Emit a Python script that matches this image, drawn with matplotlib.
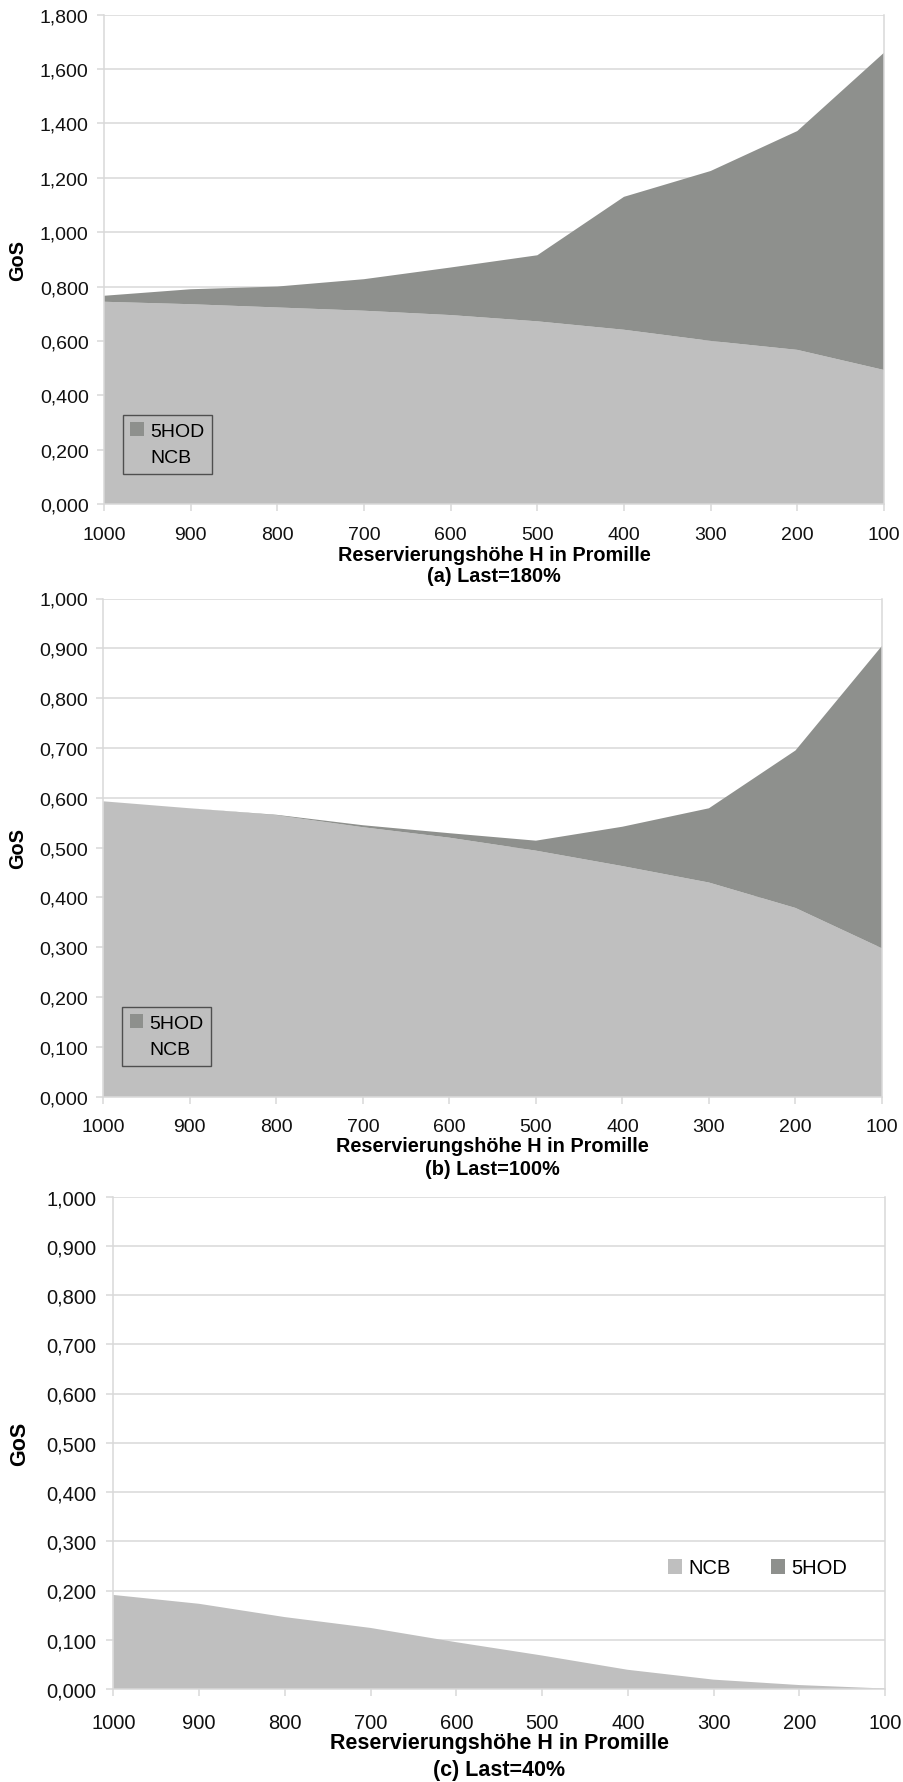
import matplotlib
matplotlib.use("Agg")
import matplotlib.pyplot as plt
from matplotlib.patches import Patch
from matplotlib.ticker import FuncFormatter, MultipleLocator

plt.rcParams['font.family'] = ['Liberation Sans', 'DejaVu Sans']

# Reservierungshöhe H (Promille), shown from 1000 down to 100
h_labels = ["1000", "900", "800", "700", "600", "500", "400", "300", "200", "100"]

# (a) Last = 180 %
ncb_180 = [0.744, 0.735, 0.723, 0.711, 0.695, 0.672, 0.641, 0.600, 0.567, 0.493]
hod_180 = [0.022, 0.055, 0.077, 0.116, 0.175, 0.243, 0.489, 0.625, 0.805, 1.167]

# (b) Last = 100 %
ncb_100 = [0.593, 0.579, 0.565, 0.541, 0.520, 0.494, 0.463, 0.430, 0.379, 0.298]
hod_100 = [0.000, 0.000, 0.001, 0.004, 0.009, 0.020, 0.079, 0.149, 0.316, 0.607]

# (c) Last = 40 %
ncb_40 = [0.191, 0.173, 0.146, 0.124, 0.095, 0.068, 0.039, 0.019, 0.008, 0.001]
hod_40 = [0.000, 0.000, 0.000, 0.000, 0.000, 0.000, 0.000, 0.000, 0.000, 0.000]

C_NCB = "#bfbfbf"
C_HOD = "#8e908d"
C_GRID = "#d9d9d9"

W, H = 904, 1783
fig = plt.figure(figsize=(W / 100, H / 100), dpi=100)


def px_axes(l, t, r, b):
    return fig.add_axes([l / W, 1 - b / H, (r - l) / W, (b - t) / H])


def draw_panel(box, ncb, hod, ymax, ystep, caption, xl_y, cap_y, gos_x,
               xpad, ypad, fs, fsb, legend_style):
    ax = px_axes(*box)
    x = list(range(len(h_labels)))
    ax.stackplot(x, ncb, hod, colors=[C_NCB, C_HOD], linewidth=0)
    ax.set_xlim(0, len(h_labels) - 1)
    ax.set_ylim(0, ymax)
    ax.set_xticks(x)
    ax.set_xticklabels(h_labels)
    ax.yaxis.set_major_locator(MultipleLocator(ystep))
    ax.yaxis.set_major_formatter(
        FuncFormatter(lambda v, p: f"{v:.3f}".replace(".", ",")))
    ax.set_axisbelow(True)
    ax.grid(axis="y", color=C_GRID, linewidth=1.1)
    for s in ("left", "bottom", "right"):
        ax.spines[s].set_color(C_GRID)
        ax.spines[s].set_linewidth(1.1)
    ax.spines["top"].set_visible(False)
    ax.tick_params(axis="both", direction="out", color=C_GRID, length=5,
                   width=1.1, labelsize=fs, labelcolor="#111111")
    ax.tick_params(axis="x", pad=xpad)
    ax.tick_params(axis="y", pad=ypad)

    l, t, r, b = box
    cx = (l + r) / 2 / W
    fig.text(cx, 1 - xl_y / H, "Reservierungshöhe H in Promille",
             ha="center", va="center", fontsize=fsb, fontweight="bold")
    fig.text(cx, 1 - cap_y / H, caption, ha="center", va="center",
             fontsize=fsb, fontweight="bold")
    fig.text(gos_x / W, 1 - (t + b) / 2 / H, "GoS", rotation=90,
             ha="center", va="center", fontsize=fsb, fontweight="bold")

    ax_x, ax_y = legend_style[1], legend_style[2]
    if legend_style[0] == "box":
        handles = [Patch(facecolor=C_HOD, edgecolor="none", label="5HOD"),
                   Patch(facecolor=C_NCB, edgecolor="none", label="NCB")]
        leg = ax.legend(handles=handles, loc="upper left",
                        bbox_to_anchor=(ax_x / W, 1 - ax_y / H),
                        bbox_transform=fig.transFigure, borderaxespad=0,
                        fontsize=fs, frameon=True, fancybox=False,
                        handlelength=0.7, handleheight=0.7, handletextpad=0.3,
                        labelspacing=0.45, borderpad=0.4)
        # transparent box: the filled area shows through, only the border is drawn
        leg.get_frame().set_edgecolor("#333333")
        leg.get_frame().set_linewidth(1.0)
        leg.get_frame().set_facecolor("none")
    else:
        handles = [Patch(facecolor=C_NCB, edgecolor="none", label="NCB"),
                   Patch(facecolor=C_HOD, edgecolor="none", label="5HOD")]
        ax.legend(handles=handles, loc="center left",
                  bbox_to_anchor=(ax_x / W, 1 - ax_y / H),
                  bbox_transform=fig.transFigure, borderaxespad=0,
                  fontsize=fs, frameon=False, ncol=2,
                  handlelength=0.7, handleheight=0.7, handletextpad=0.3,
                  columnspacing=2.0, borderpad=0)
    return ax


draw_panel((104, 15.7, 884, 505), ncb_180, hod_180, 1.8, 0.2,
           "(a) Last=180%", 556, 577, 18, 11.0, 6.0, 14.0, 14.3,
           ("box", 122.7, 415.7))
draw_panel((103.3, 599.5, 882, 1097.8), ncb_100, hod_100, 1.0, 0.1,
           "(b) Last=100%", 1146, 1170, 18, 10.5, 6.0, 14.0, 14.3,
           ("box", 122.0, 1007.6))
draw_panel((113.3, 1197.5, 885, 1690), ncb_40, hod_40, 1.0, 0.1,
           "(c) Last=40%", 1744, 1771, 20, 12.0, 7.0, 14.5, 15.5,
           ("flat", 668, 1569))

fig.savefig("out.png", dpi=100, facecolor="white")
